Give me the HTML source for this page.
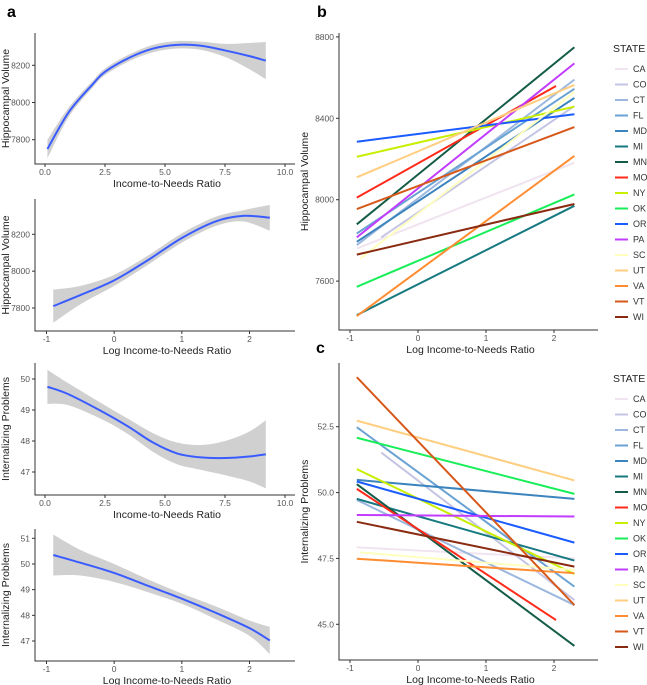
<!DOCTYPE html>
<html><head><meta charset="utf-8">
<style>
html,body{margin:0;padding:0;background:#fff;}
svg{display:block;font-family:"Liberation Sans",Arial,sans-serif;}
.tick{font-size:8.5px;fill:#555;}
.ttl{font-size:10.5px;fill:#222;}
.leg{font-size:9px;fill:#333;}
</style></head>
<body>
<svg id="fig" width="647" height="685" viewBox="0 0 647 685">
<text x="7" y="17" font-size="16" font-weight="bold">a</text>
<text x="317" y="17" font-size="16" font-weight="bold">b</text>
<text x="316" y="353" font-size="16" font-weight="bold">c</text>
</svg>
<script>
// ---- panel a data ----
const a1X=[0.1,1,2,2.5,3.5,4.5,5.5,6.5,7.5,8.5,9.2];
const a1Y=[7750,7950,8100,8165,8240,8290,8310,8305,8280,8250,8225];
const a1SE=[50,25,18,18,18,20,20,22,35,70,100];
const a2X=[-0.9,-0.5,0,0.5,1,1.5,1.9,2.3];
const a2Y=[7810,7870,7950,8060,8180,8270,8300,8290];
const a2SE=[90,50,30,25,25,25,30,70];
const a3X=[0.1,1,2.5,3.5,4.5,5.5,6.5,7.5,8.5,9.2];
const a3Y=[49.75,49.5,48.9,48.45,47.95,47.6,47.47,47.45,47.5,47.57];
const a3SE=[0.55,0.35,0.25,0.25,0.3,0.35,0.4,0.55,0.8,1.1];
const a4X=[-0.9,-0.5,0,0.5,1,1.5,2,2.3];
const a4Y=[50.35,50.05,49.65,49.15,48.65,48.1,47.5,47.02];
const a4SE=[0.8,0.5,0.35,0.25,0.2,0.25,0.3,0.53];
// ---- panels b/c data ----
const states=["CA","CO","CT","FL","MD","MI","MN","MO","NY","OK","OR","PA","SC","UT","VA","VT","WI"];
const colors=["#f0e4f0","#c4c4e4","#9cb8de","#6aa2d4","#3c84be","#167a80","#145c48","#ff2a1a","#c8ee00","#18ee58","#1a5cff","#c23cff","#ffffbe","#ffce80","#ff8c30","#d6581a","#8a2a10"];
const xStart=[-0.9,-0.54,-0.9,-0.9,-0.9,-0.9,-0.9,-0.9,-0.9,-0.9,-0.9,-0.9,-0.85,-0.9,-0.9,-0.9,-0.9];
const xEnd=[2.3,2.3,2.3,2.3,2.3,2.3,2.3,2.03,2.3,2.3,2.3,2.3,2.3,2.3,2.3,2.3,2.3];
const bStart=[7760,7815,7777,7834,7793,7433,7879,8010,8211,7572,8285,7815,7710,8110,7428,7954,7730];
const bEnd=[8182,8460,8590,8545,8500,7970,8749,8559,8457,8026,8420,8670,8530,8564,8215,8357,7979];
const cStart=[47.92,51.52,49.72,52.48,50.48,49.76,50.32,50.14,50.89,52.08,50.42,49.15,47.73,52.73,47.49,54.38,48.89];
const cEnd=[47.5,45.92,45.73,46.43,49.76,47.42,44.18,45.16,46.91,49.95,48.10,49.09,47.06,50.46,46.94,45.73,47.19];
const a13Ticks=[0,2.5,5,7.5,10];
const a13TickLabels=["0.0","2.5","5.0","7.5","10.0"];
const logTicks=[-1,0,1,2];
const a1YTicks=[7800,8000,8200];
const a3YTicks=[47,48,49,50];
const a4YTicks=[47,48,49,50,51];
const bYTicks=[7600,8000,8400,8800];
const cYTicks=[45,47.5,50,52.5];
const cYTickLabels=["45.0","47.5","50.0","52.5"];

const NS="http://www.w3.org/2000/svg";
const svg=document.getElementById('fig');
function mk(tag,attrs,parent){const e=document.createElementNS(NS,tag);for(const k in attrs)e.setAttribute(k,attrs[k]);(parent||svg).appendChild(e);return e;}
function lin(d0,d1,r0,r1){return v=>r0+(v-d0)*(r1-r0)/(d1-d0);}
// Catmull-Rom smooth path through points
function cr(pts,start){
  let d=start?`M${pts[0][0]},${pts[0][1]}`:`L${pts[0][0]},${pts[0][1]}`;
  for(let i=0;i<pts.length-1;i++){
    const p0=pts[Math.max(i-1,0)],p1=pts[i],p2=pts[i+1],p3=pts[Math.min(i+2,pts.length-1)];
    const c1=[p1[0]+(p2[0]-p0[0])/6,p1[1]+(p2[1]-p0[1])/6];
    const c2=[p2[0]-(p3[0]-p1[0])/6,p2[1]-(p3[1]-p1[1])/6];
    d+=`C${c1[0]},${c1[1]} ${c2[0]},${c2[1]} ${p2[0]},${p2[1]}`;
  }
  return d;
}

function axes(p){
  const g=mk('g',{});
  
  
  const ax=mk('path',{d:`M${p.left},${p.top}V${p.bottom}H${p.right}`,stroke:'#333',fill:'none','stroke-width':1},g);
  
  
  p.xt.forEach((t,i)=>{
    const x=p.sx(t);
    mk('line',{x1:x,x2:x,y1:p.bottom,y2:p.bottom+3,stroke:'#333'},g);
    const tx=mk('text',{x:x,y:p.bottom+11,'text-anchor':'middle',class:'tick'},g);
    tx.textContent=p.xl?p.xl[i]:String(t);
    
    
  });
  p.yt.forEach((t,i)=>{
    const y=p.sy(t);
    mk('line',{x1:p.left-3,x2:p.left,y1:y,y2:y,stroke:'#333'},g);
    const tx=mk('text',{x:p.left-5,y:y+3,'text-anchor':'end',class:'tick'},g);
    tx.textContent=p.yl?p.yl[i]:String(t);
    
    
  });
  const xt=mk('text',{x:(p.left+p.right)/2+2,y:p.bottom+23,'text-anchor':'middle',class:'ttl'},g);
  xt.textContent=p.xtitle;
  
  
  const cy=(p.top+p.bottom)/2, cx=p.ytx;
  const yt=mk('text',{x:cx,y:cy,'text-anchor':'middle',class:'ttl',transform:`rotate(-90 ${cx} ${cy})`},g);
  yt.textContent=p.ytitle;
  
  
  return g;
}
function smoothPanel(p,X,Y,SE){
  const g=axes(p);
  const up=X.map((x,i)=>[p.sx(x),p.sy(Y[i]+SE[i])]);
  const dn=X.map((x,i)=>[p.sx(x),p.sy(Y[i]-SE[i])]).reverse();
  const rib=mk('path',{d:cr(up,true)+cr(dn,false)+'Z',fill:'#d0d0d0'},g);
  
  
  const mid=X.map((x,i)=>[p.sx(x),p.sy(Y[i])]);
  const ln=mk('path',{d:cr(mid,true),fill:'none',stroke:'#3a5cff','stroke-width':2,'stroke-linejoin':'round'},g);
  
  
}
const sxLin=lin(0,10,45,285);
const sxLog=lin(-1,2,46.5,249.5);
smoothPanel({name:'panel-a1',left:35,right:295,top:33,bottom:164,sx:sxLin,sy:lin(7800,8200,139.7,65.3),xt:a13Ticks,xl:a13TickLabels,yt:a1YTicks,xtitle:'Income-to-Needs Ratio',ytitle:'Hippocampal Volume',ytx:9},a1X,a1Y,a1SE);
smoothPanel({name:'panel-a2',left:35,right:295,top:199,bottom:331,sx:sxLog,sy:lin(7800,8200,308,234.3),xt:logTicks,yt:a1YTicks,xtitle:'Log Income-to-Needs Ratio',ytitle:'Hippocampal Volume',ytx:9},a2X,a2Y,a2SE);
smoothPanel({name:'panel-a3',left:35,right:295,top:363,bottom:495,sx:sxLin,sy:lin(47,50,472,379),xt:a13Ticks,xl:a13TickLabels,yt:a3YTicks,xtitle:'Income-to-Needs Ratio',ytitle:'Internalizing Problems',ytx:9},a3X,a3Y,a3SE);
smoothPanel({name:'panel-a4',left:35,right:295,top:529,bottom:661,sx:sxLog,sy:lin(47,51,641,538.3),xt:logTicks,yt:a4YTicks,xtitle:'Log Income-to-Needs Ratio',ytitle:'Internalizing Problems',ytx:9},a4X,a4Y,a4SE);

function statePanel(p,S,E,legTop){
  const g=axes(p);
  states.forEach((s,i)=>{
    const l=mk('line',{x1:p.sx(xStart[i]),y1:p.sy(S[i]),x2:p.sx(xEnd[i]),y2:p.sy(E[i]),stroke:colors[i],'stroke-width':2},g);
    
    
  });
  const lg=mk('g',{});
  
  
  const t=mk('text',{x:613,y:legTop,class:'ttl'},lg);
  t.textContent='STATE';
  states.forEach((s,i)=>{
    const y=legTop+17+i*15.5;
    const e=mk('g',{},lg);
    
    
    mk('line',{x1:615,x2:628,y1:y,y2:y,stroke:colors[i],'stroke-width':2},e);
    const tx=mk('text',{x:633,y:y+3,class:'leg'},e);
    tx.textContent=s;
  });
}
const sxB=lin(-1,2,350,554);
statePanel({name:'panel-b',left:339,right:598,top:33,bottom:330,sx:sxB,sy:lin(8000,8400,199.7,118.3),xt:logTicks,yt:bYTicks,xtitle:'Log Income-to-Needs Ratio',ytitle:'Hippocampal Volume',ytx:308},bStart,bEnd,52);
statePanel({name:'panel-c',left:339,right:598,top:363,bottom:660,sx:sxB,sy:lin(45,52.5,624.3,426.7),xt:logTicks,yt:cYTicks,yl:cYTickLabels,xtitle:'Log Income-to-Needs Ratio',ytitle:'Internalizing Problems',ytx:308},cStart,cEnd,382);
</script>
</body></html>
